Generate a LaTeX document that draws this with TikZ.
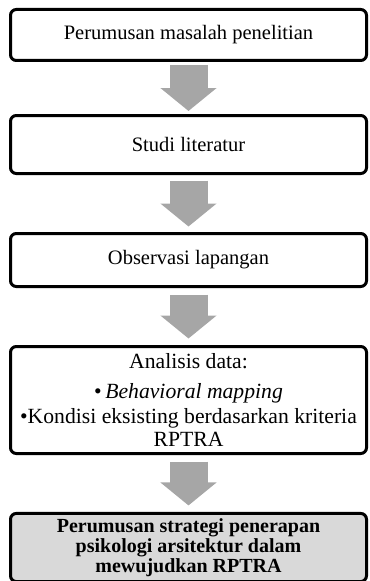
\documentclass[tikz,border=0pt]{standalone}
\usepackage{fontspec}
\setmainfont{Liberation Serif}
\usepackage{tikz}
\usetikzlibrary{positioning,arrows.meta}
\definecolor{fboxline}{HTML}{000000}
\definecolor{fboxfill}{HTML}{FFFFFF}
\definecolor{fresultfill}{HTML}{D9D9D9}
\definecolor{farrowfill}{HTML}{A6A6A6}
\tikzset{fbox/.style={rectangle, rounded corners=3.5pt, draw=fboxline, fill=fboxfill, line width=1.8pt, minimum width=213.6pt, inner xsep=2pt, inner ysep=3pt, align=center, font=\fontsize{12.3}{13.2}\selectfont}}
\tikzset{fanalysis/.style={fbox, font=\fontsize{13}{13.5}\selectfont}}
\tikzset{fresult/.style={fbox, fill=fresultfill, font=\fontsize{12}{12}\selectfont\bfseries}}
\tikzset{fstep/.style={-{Triangle[length=13.8pt, width=33pt]}, draw=farrowfill, line width=22.8pt}}

\begin{document}
\begin{tikzpicture}[x=0.6pt, y=-0.6pt]
  \useasboundingbox (0,0) rectangle (369,581);

  \node[fbox, minimum height=30.6pt] (problem) at (188.5,35) {Perumusan masalah penelitian};
  \node[fbox, minimum height=34.8pt] (literature) at (188.5,144.5) {Studi literatur};
  \node[fbox, minimum height=31.8pt] (fieldwork) at (188.5,260) {Observasi lapangan};
  \node[fanalysis, minimum height=64.2pt] (analysis) at (188.5,400) {Analisis data:\\[4.5pt]
    \textbullet\,\textit{Behavioral mapping}\\[1.5pt]
    \textbullet Kondisi eksisting berdasarkan kriteria\\
    RPTRA};
  \node[fresult, minimum height=36pt] (strategy) at (188.5,547.5) {Perumusan strategi penerapan\\psikologi arsitektur dalam\\mewujudkan RPTRA};

  \draw[fstep, shorten <=1.8pt, shorten >=1.8pt] (problem) -- (literature);
  \draw[fstep, shorten <=3.3pt, shorten >=3.3pt] (literature) -- (fieldwork);
  \draw[fstep, shorten <=3.9pt, shorten >=3.9pt] (fieldwork) -- (analysis);
  \draw[fstep, shorten <=3.9pt, shorten >=3.9pt] (analysis) -- (strategy);
\end{tikzpicture}
\end{document}
